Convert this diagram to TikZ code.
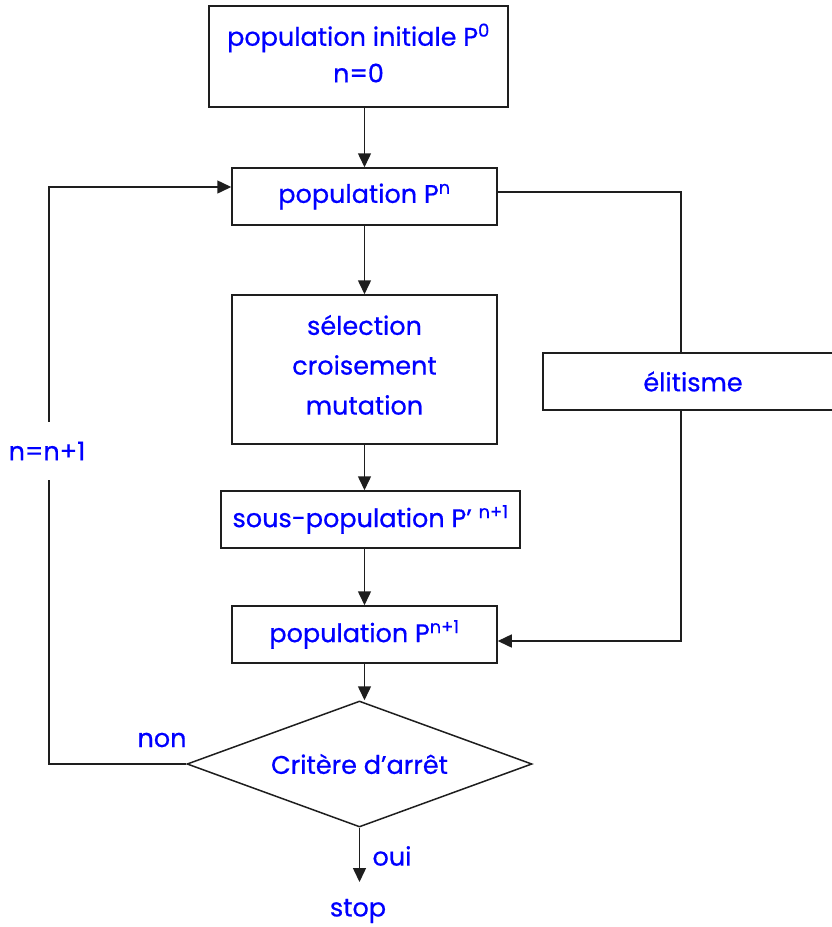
\documentclass[tikz,border=0pt]{standalone}
\usepackage{fontspec}
\setmainfont{Poppins}[FakeBold=0.6]
\usetikzlibrary{shapes.geometric,arrows.meta}
\definecolor{txtblue}{RGB}{0,0,255}
\definecolor{linegray}{RGB}{30,30,30}
\begin{document}
\begin{tikzpicture}[x=1pt,y=-1pt,
  every node/.style={font=\fontsize{25.5}{35}\selectfont, text=txtblue},
  box/.style={draw=linegray, line width=1.5pt, fill=white, inner sep=0pt, align=center},
  lbl/.style={inner sep=0pt},
  arr/.style={draw=linegray, line width=1.5pt, -{Triangle[length=14pt,width=13pt]}},
  ln/.style={draw=linegray, line width=1.5pt}]
\useasboundingbox (0,0) rectangle (832,927);
\node[box, minimum width=299pt, minimum height=101pt] (b1) at (358.5,56.5) {};
\node[lbl] (b1a) at (358.5,38) {population initiale P\textsuperscript{0}};
\node[lbl] (b1b) at (358.5,73) {n=0};
\node[box, minimum width=265pt, minimum height=57pt] (b2) at (364.5,196.5)
  {population P\textsuperscript{n}};
\node[box, minimum width=265pt, minimum height=149pt] (b3) at (364.5,369.5) {};
\node[lbl] (b3a) at (364.5,325) {sélection};
\node[lbl] (b3b) at (364.5,365) {croisement};
\node[lbl] (b3c) at (364.5,405) {mutation};
\node[box, minimum width=299pt, minimum height=57pt] (b4) at (370.5,519.5)
  {sous-population P’ \textsuperscript{n+1}};
\node[box, minimum width=265pt, minimum height=57pt] (b5) at (364.5,634.5)
  {population P\textsuperscript{n+1}};
\node[box, minimum width=300pt, minimum height=57pt] (el) at (693,381.5)
  {élitisme};
\node[box, shape=diamond, aspect=2.74, minimum width=345pt, minimum height=126pt] (dia) at (359.5,764)
  {Critère d’arrêt};
\node[lbl] (stop) at (358,911) {stop};
\node[lbl] (oui) at (392,856) {oui};
\node[lbl] (non) at (162,740) {non};
\coordinate (end) at (359.5,882);
\coordinate (lp) at (49,187);
\coordinate (r1) at (681,192);
\coordinate (r2) at (681,641);
\draw[arr] (b1.south -| b2.north) -- (b2.north);
\draw[arr] (b2.south) -- (b3.north);
\draw[arr] (b3.south) -- (b4.north -| b3.south);
\draw[arr] (b4.south -| b5.north) -- (b5.north);
\draw[arr] (b5.south) -- (dia.north -| b5.south);
\draw[arr] (dia.south) -- (end);
\draw[arr] (dia.west) -| (lp) -- (b2.west |- lp);
\draw[ln] (b2.east |- r1) -- (r1) -- (r1 |- el.north);
\draw[arr] (r1 |- el.south) -- (r2) -- (b5.east |- r2);
\node[lbl, fill=white, minimum height=58pt] (nn) at (47,451) {n=n+1};
\end{tikzpicture}
\end{document}
